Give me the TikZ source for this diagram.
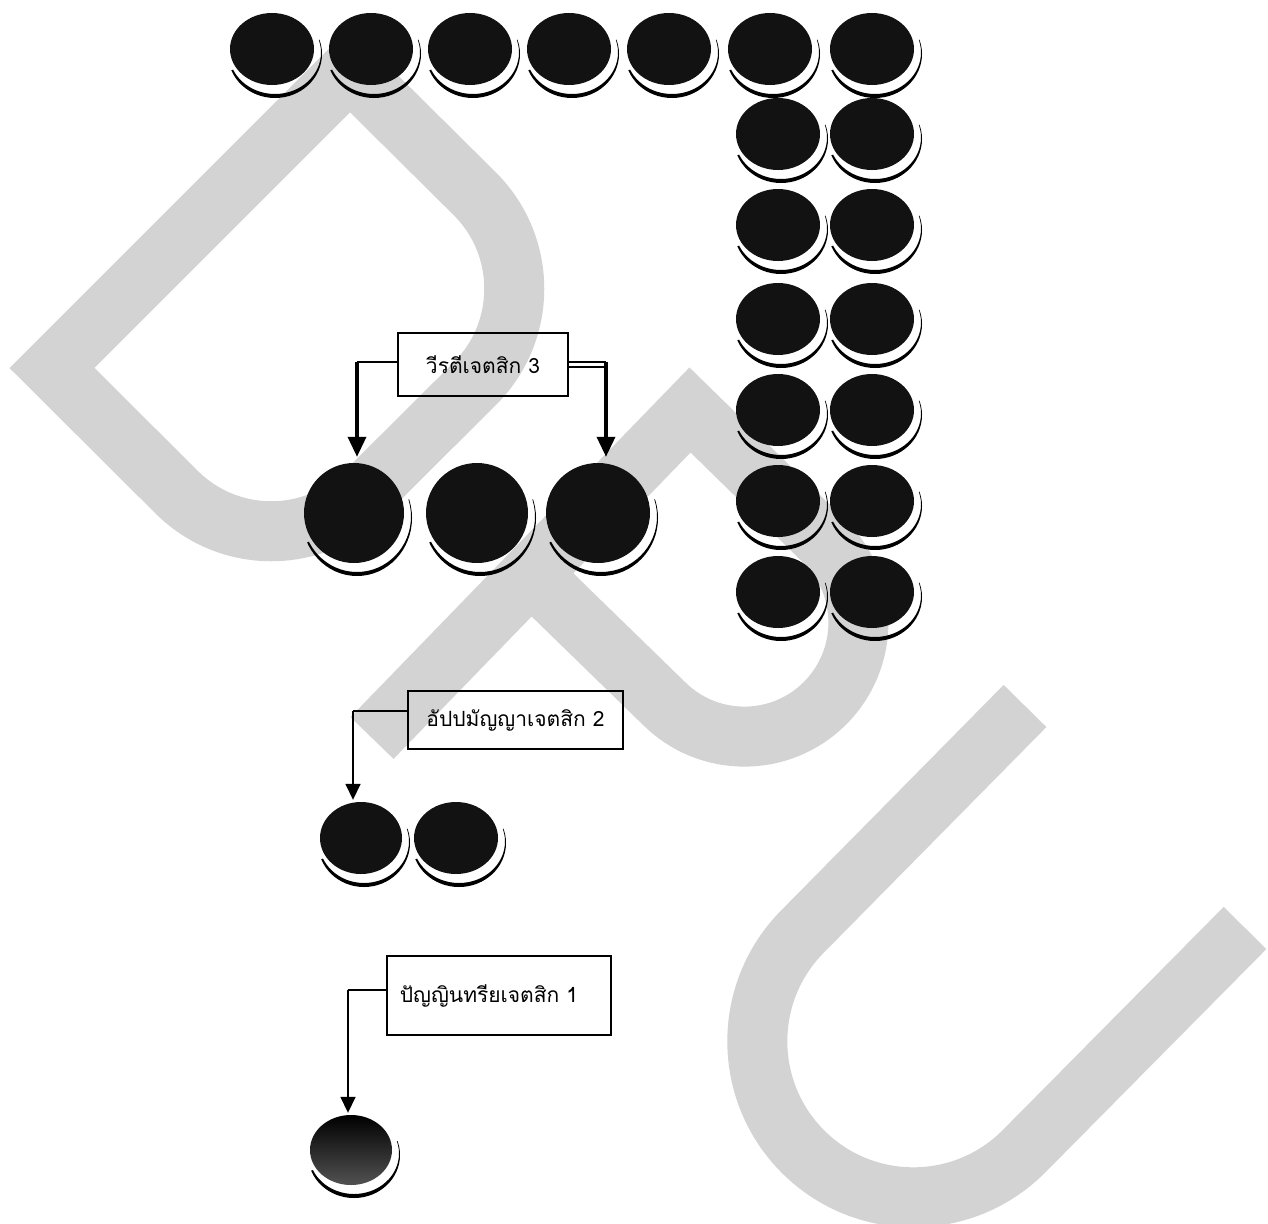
\documentclass[tikz,border=0pt]{standalone}
\usepackage{fontspec}
\newfontfamily\thaifont[Script=Thai]{Loma}
\usetikzlibrary{arrows.meta,shapes.geometric}
\definecolor{wmgrey}{RGB}{211,211,211}
\newcommand\myball[6][fill=black!93]{%
  \begin{scope}
    \clip (#3-#5-10,#4+#6*0.7) -- (#3+#5+20,#4-#6*0.4) -- (#3+#5+30,#4+#6+40) -- (#3-#5-10,#4+#6+40) -- cycle;
    \fill[black, even odd rule] (#3+3,#4+5) ellipse[x radius=#5+5, y radius=#6+8]
                                (#3+3,#4+3.5) ellipse[x radius=#5+4, y radius=#6+5.5];
  \end{scope}
  \node[ballst, #1, minimum width={2*#5pt}, minimum height={2*#6pt}] (#2) at (#3,#4) {};
}
\begin{document}
\begin{tikzpicture}[x=1pt,y=-1pt,
  wm/.style={draw=wmgrey, line width=60pt, line join=miter, line cap=butt},
  ballst/.style={ellipse, inner sep=0pt, draw=none},
  boxst/.style={draw=black, line width=1.4pt, inner sep=0pt, font=\thaifont\fontsize{21}{25}\selectfont},
  hline/.style={line width=1.6pt},
  bigarrow/.style={line width=3.5pt, -{Triangle[width=18pt,length=20pt]}, shorten >=6pt},
  smallarrow/.style={line width=1.6pt, -{Triangle[width=15pt,length=16pt]}, shorten >=2pt},
]
\useasboundingbox (0,0) rectangle (1268,1223);
\fill[white] (0,0) rectangle (1268,1223);

% watermark D R U
\draw[wm] (52,368) -- (350,70) -- (475,194) arc[start angle=-45, end angle=45, radius=134]
          -- (366,492) arc[start angle=45, end angle=135, radius=134] -- cycle;
\draw[wm] (372,738) -- (690,410) -- (825,542) arc[start angle=-45, end angle=135, radius=114] -- (531,574);
\draw[wm] (1025,706) -- (803,931) arc[start angle=225, end angle=45, radius=156] -- (1245,928);

% top row
\myball{r1}{272}{49}{42}{36}
\myball{r2}{371}{49}{42}{36}
\myball{r3}{470}{49}{42}{36}
\myball{r4}{569}{49}{42}{36}
\myball{r5}{669}{49}{42}{36}
\myball{r6}{770}{49}{42}{36}
\myball{r7}{872}{49}{42}{36}
% two columns
\myball{l2}{778}{134}{42}{36}
\myball{q2}{872}{134}{42}{36}
\myball{l3}{778}{225}{42}{36}
\myball{q3}{872}{225}{42}{36}
\myball{l4}{778}{319}{42}{36}
\myball{q4}{872}{319}{42}{36}
\myball{l5}{778}{410}{42}{36}
\myball{q5}{872}{410}{42}{36}
\myball{l6}{778}{501}{42}{36}
\myball{q6}{872}{501}{42}{36}
\myball{l7}{778}{592}{42}{36}
\myball{q7}{872}{592}{42}{36}
% middle big balls
\myball{m1}{354}{513}{50}{50}
\myball{m2}{477}{513}{51}{50}
\myball{m3}{598}{513}{52}{50}
% two balls
\myball{n1}{361}{838}{41}{36}
\myball{n2}{456}{838}{42}{36}
% single ball
\myball[top color=black, bottom color=black!68]{s1}{351}{1150}{41}{35}

% boxes
\node[boxst, minimum width=170pt, minimum height=63pt] (t3) at (483,364.5) {วีรตีเจตสิก 3};
\node[boxst, minimum width=215pt, minimum height=58pt] (t2) at (515.5,720) {อัปปมัญญาเจตสิก 2};
\node[boxst, minimum width=224pt, minimum height=79pt] (t1) at (499,995.5) {ปัญญินทรียเจตสิก 1\hspace*{20pt}};

% connectors
\coordinate (c1) at (357,362);
\draw[hline] (t3.west |- c1) -- (c1);
\draw[bigarrow] (c1) -- (c1 |- m1.north);
\coordinate (c2) at (606,362);
\coordinate (c2b) at (606,367);
\draw[hline] (t3.east |- c2) -- (c2);
\draw[line width=2.2pt] (t3.east |- c2b) -- (c2b);
\draw[bigarrow] (c2) -- (c2 |- m3.north);
\coordinate (c3) at (353,711);
\draw[hline] (t2.west |- c3) -- (c3);
\draw[smallarrow] (c3) -- (c3 |- n1.north);
\coordinate (c4) at (348,990);
\draw[hline] (t1.west |- c4) -- (c4);
\draw[smallarrow] (c4) -- (c4 |- s1.north);
\end{tikzpicture}
\end{document}
